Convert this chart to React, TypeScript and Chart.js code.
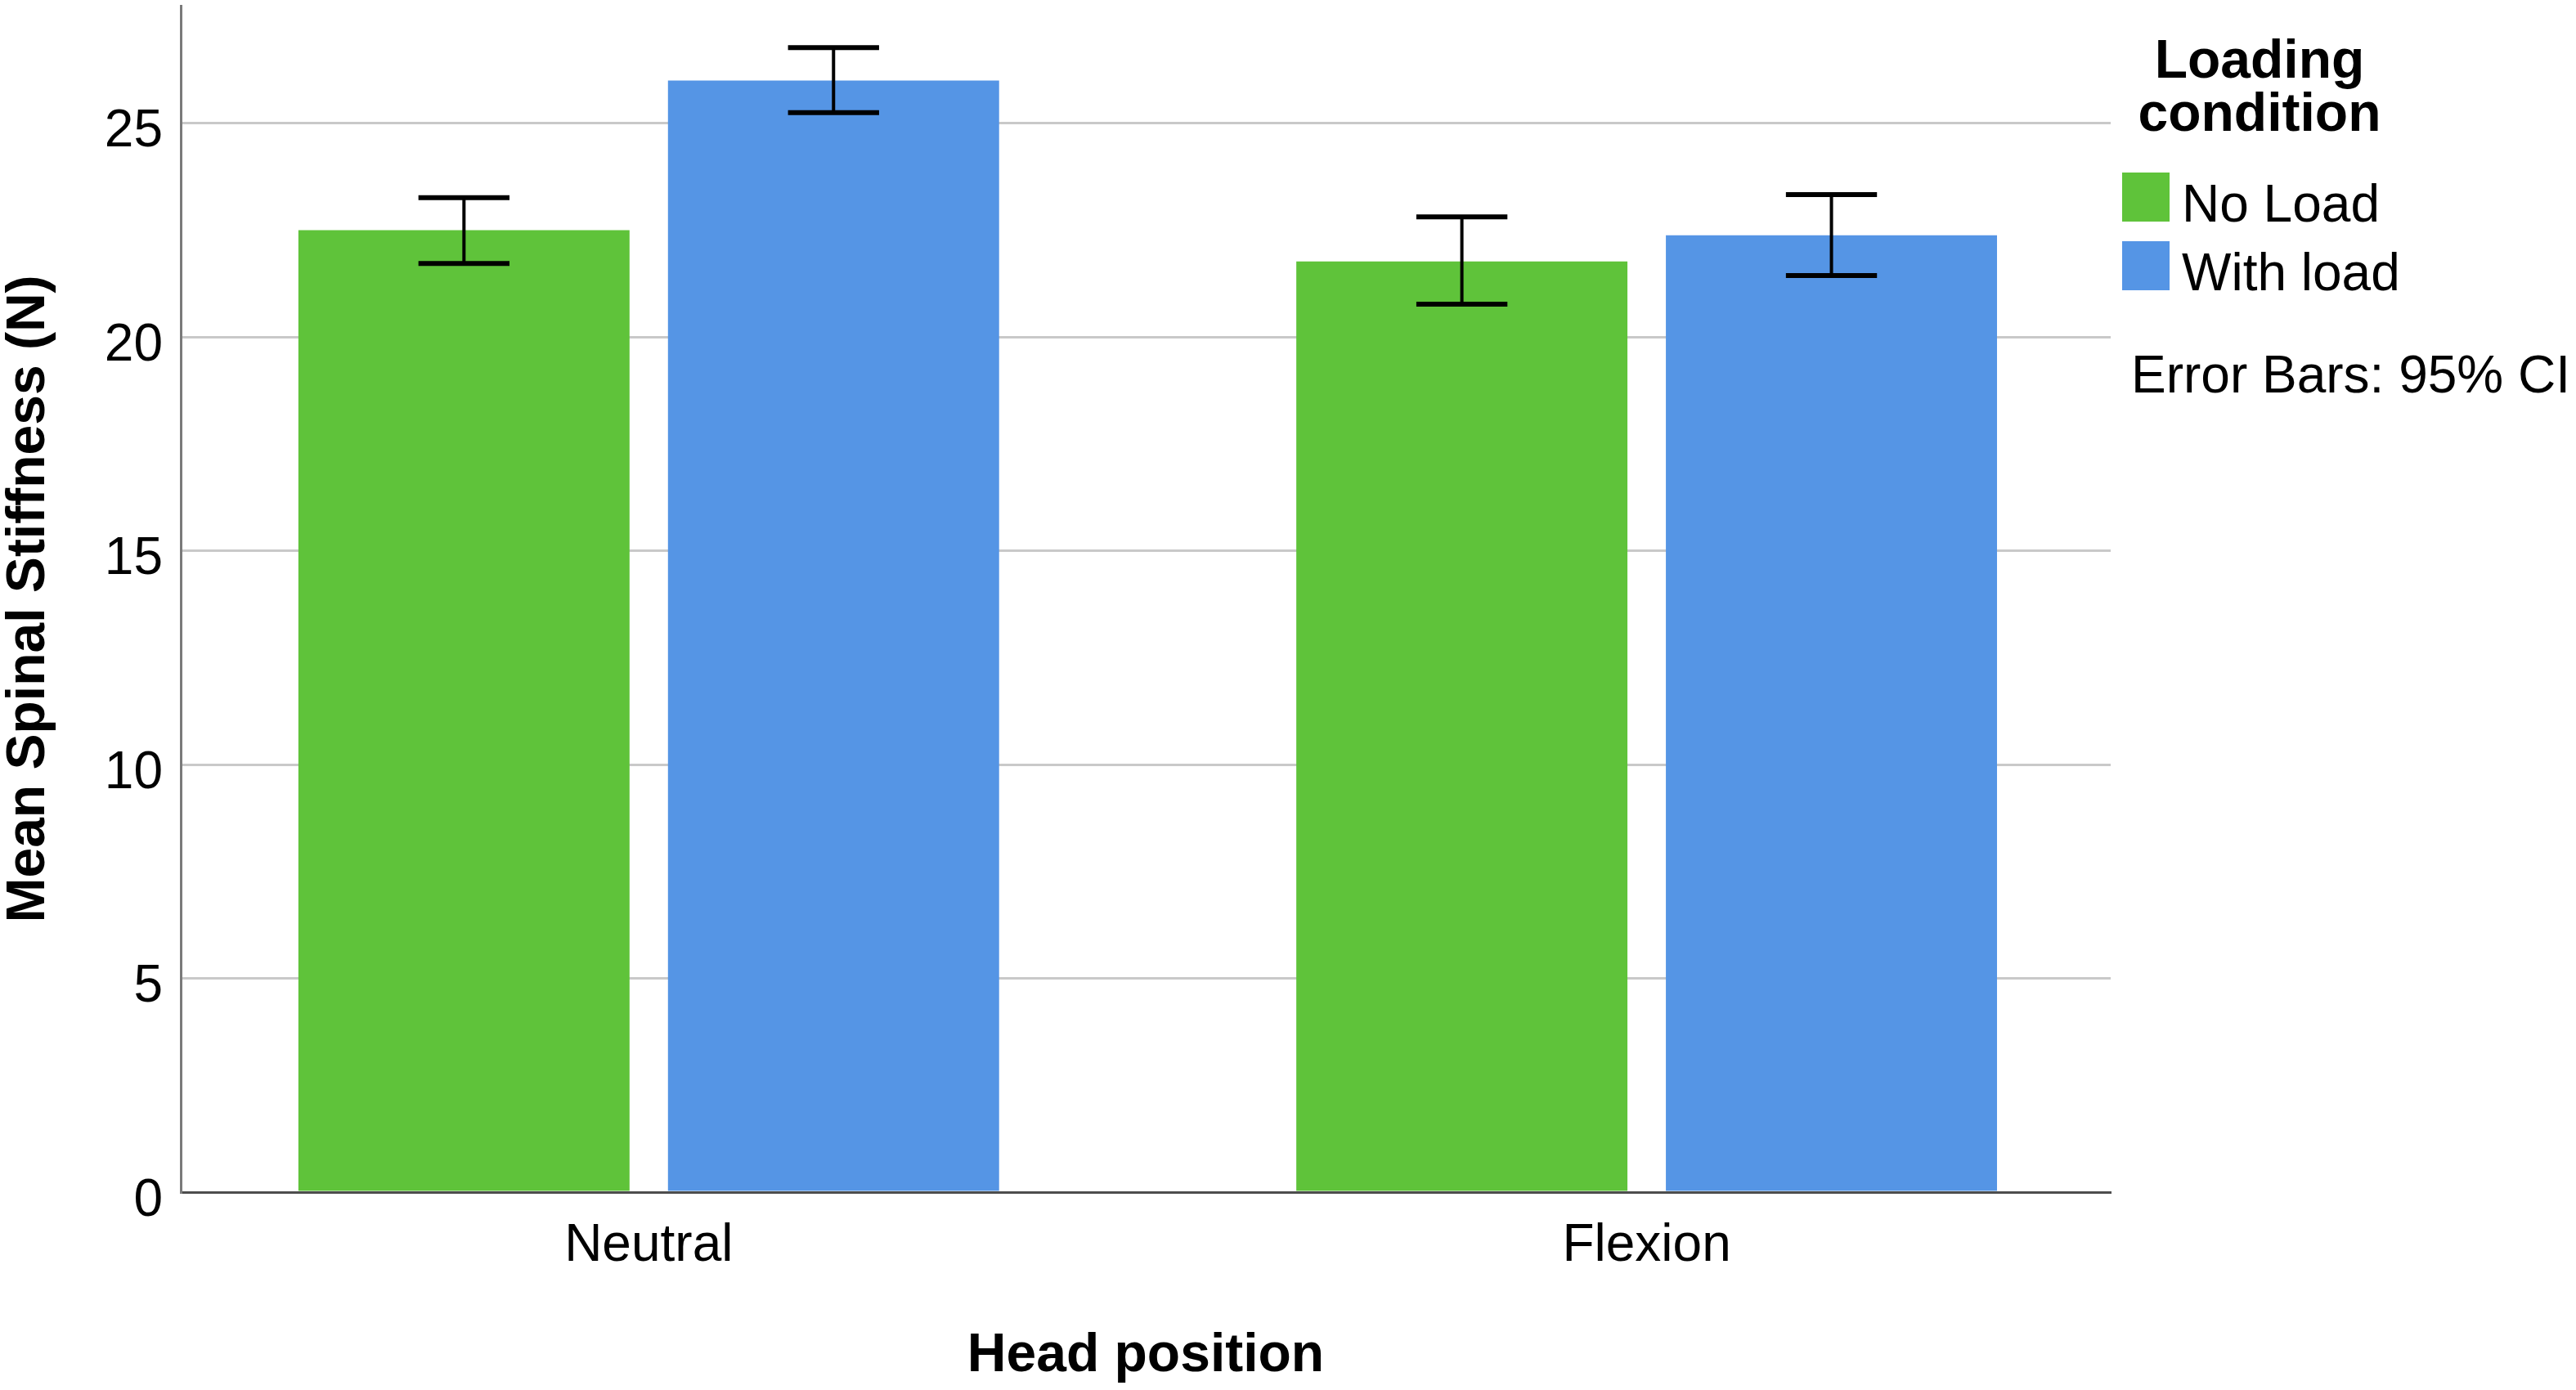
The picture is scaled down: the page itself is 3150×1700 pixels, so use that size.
import React, { useEffect, useRef } from "react";
import { Chart, registerables } from "chart.js";

Chart.register(...registerables);

// ---- data ----
const categories = ["Neutral", "Flexion"];
const seriesNames = ["No Load", "With load"];
const seriesColors = ["#5fc33a", "#5595e5"];
const noLoadMeans = [22.5, 21.77];
const noLoadLower = [21.72, 20.77];
const noLoadUpper = [23.26, 22.81];
const withLoadMeans = [26.0, 22.38];
const withLoadLower = [25.25, 21.44];
const withLoadUpper = [26.77, 23.33];
const yTickStep = 5;
const yMin = 0;
const yMax = 27.75;
const xMin = -0.469;
const xMax = 1.465;
const legendTitle = ["Loading", "condition"];
const errorNote = "Error Bars: 95% CI";
const xTitle = "Head position";
const yTitle = "Mean Spinal Stiffness (N)";

const FONT = "'Liberation Sans', Arial, sans-serif";

const errorBarPlugin = {
  id: "errorBars",
  afterDatasetsDraw(chart: any) {
    const ctx = chart.ctx;
    const ys = chart.scales.y;
    chart.data.datasets.forEach((ds: any, di: number) => {
      const meta = chart.getDatasetMeta(di);
      meta.data.forEach((bar: any, i: number) => {
        const lo = ds.errLow[i];
        const hi = ds.errHigh[i];
        const x = bar.x;
        const w = bar.width * 0.275;
        const yl = ys.getPixelForValue(lo);
        const yh = ys.getPixelForValue(hi);
        ctx.save();
        ctx.strokeStyle = "#000";
        ctx.lineWidth = 4;
        ctx.beginPath();
        ctx.moveTo(x, yl);
        ctx.lineTo(x, yh);
        ctx.stroke();
        ctx.lineWidth = 6;
        ctx.beginPath();
        ctx.moveTo(x - w / 2, yh);
        ctx.lineTo(x + w / 2, yh);
        ctx.moveTo(x - w / 2, yl);
        ctx.lineTo(x + w / 2, yl);
        ctx.stroke();
        ctx.restore();
      });
    });
  },
};

const legendPlugin = {
  id: "spssLegend",
  afterDraw(chart: any) {
    const ctx = chart.ctx;
    const r = chart.chartArea.right;
    ctx.save();
    ctx.fillStyle = "#000";
    ctx.textBaseline = "alphabetic";
    ctx.textAlign = "center";
    ctx.font = `bold 66px ${FONT}`;
    legendTitle.forEach((t, i) => {
      ctx.fillText(t, r + 182, 95 + i * 65);
    });
    ctx.textAlign = "left";
    ctx.font = `64px ${FONT}`;
    chart.data.datasets.forEach((ds: any, i: number) => {
      const top = 211 + i * 84;
      ctx.fillStyle = ds.backgroundColor;
      ctx.fillRect(r + 14, top, 58, 60);
      ctx.fillStyle = "#000";
      ctx.fillText(ds.label, r + 87, top + 60);
    });
    ctx.fillText(errorNote, r + 25, 480);
    ctx.restore();
  },
};

export default function App() {
  const ref = useRef<HTMLCanvasElement>(null);

  useEffect(() => {
    document.body.style.margin = "0";
    document.body.style.overflow = "hidden";
    const canvas = ref.current;
    if (!canvas) return;
    const means = [noLoadMeans, withLoadMeans];
    const lows = [noLoadLower, withLoadLower];
    const highs = [noLoadUpper, withLoadUpper];
    const chart = new Chart(canvas, {
      type: "bar",
      data: {
        datasets: seriesNames.map((name, s) => ({
          label: name,
          data: categories.map((_, i) => ({ x: i, y: means[s][i] })),
          backgroundColor: seriesColors[s],
          borderWidth: 0,
          categoryPercentage: 0.7407,
          barPercentage: 0.896,
          errLow: lows[s],
          errHigh: highs[s],
        })) as any,
      },
      options: {
        animation: false,
        responsive: false,
        devicePixelRatio: 1,
        layout: { padding: { top: 7, right: 569, left: 0, bottom: 0 } },
        plugins: {
          legend: { display: false },
          tooltip: { enabled: false },
        },
        scales: {
          x: {
            type: "linear",
            min: xMin,
            max: xMax,
            offset: false,
            grid: { display: false, offset: false, drawTicks: false },
            border: { display: true, color: "#4d4d4d", width: 3 },
            afterBuildTicks: (scale: any) => {
              scale.ticks = categories.map((_, i) => ({ value: i }));
            },
            afterFit: (scale: any) => {
              scale.height = 242;
              scale.paddingLeft = 0;
              scale.paddingRight = 0;
            },
            ticks: {
              autoSkip: false,
              maxRotation: 0,
              padding: 28,
              color: "#000",
              font: { family: FONT, size: 64 },
              callback: (_v: any, index: number) => categories[index],
            },
            title: {
              display: true,
              text: xTitle,
              color: "#000",
              font: { family: FONT, size: 66, weight: "bold", lineHeight: 1 },
              padding: { top: 0, bottom: 8 },
            },
          },
          y: {
            min: yMin,
            max: yMax,
            grid: { color: "#c9c9c9", lineWidth: 3, drawTicks: false },
            border: { display: true, color: "#7a7a7a", width: 3 },
            afterFit: (scale: any) => {
              scale.width = 221;
              scale.paddingTop = 0;
              scale.paddingBottom = 0;
            },
            ticks: {
              stepSize: yTickStep,
              includeBounds: false,
              padding: 22,
              labelOffset: 11,
              color: "#000",
              font: { family: FONT, size: 64 },
            },
            title: {
              display: true,
              text: yTitle,
              color: "#000",
              font: { family: FONT, size: 66, weight: "bold", lineHeight: 1 },
              padding: { top: 3, bottom: 0 },
            },
          },
        },
      } as any,
      plugins: [errorBarPlugin, legendPlugin],
    });
    return () => chart.destroy();
  }, []);

  return (
    <div style={{ width: 3150, height: 1700, background: "#fff" }}>
      <canvas ref={ref} width={3150} height={1700} style={{ display: "block" }} />
    </div>
  );
}
